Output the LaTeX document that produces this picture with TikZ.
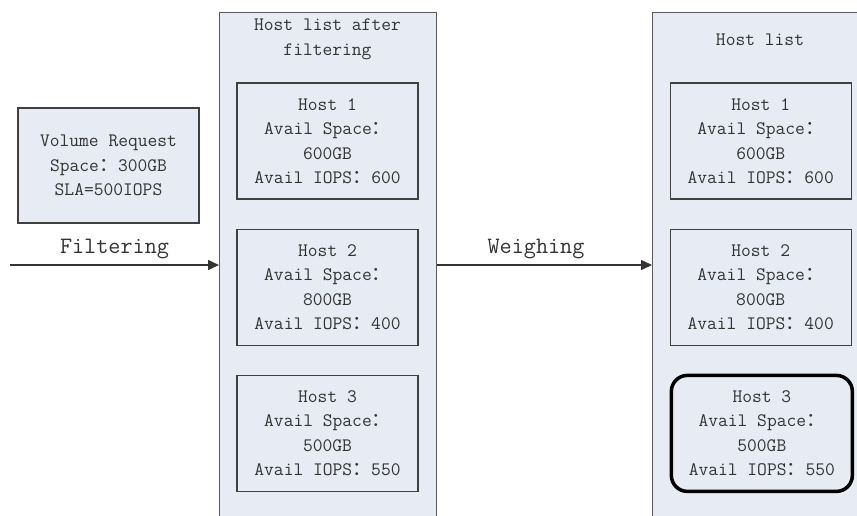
\documentclass[tikz,border=0pt]{standalone}
\usepackage{fontspec}
\newfontfamily\cjk{Noto Sans CJK SC}
\usepackage{tikz}
\usetikzlibrary{positioning,arrows.meta}
\definecolor{boxfill}{RGB}{231,235,244}
\newcommand{\fwcolon}{{\cjk ：}}

\begin{document}
\begin{tikzpicture}[%
	x=1pt, y=-1pt,
	>={Triangle[length=11pt,width=10pt]},
	node distance=29pt, align=center,
	txt/.style={font=\ttfamily\fontsize{19}{24.5}\selectfont, text=black!80},
	lbl/.style={font=\ttfamily\fontsize{23.5}{28}\selectfont, text=black!80},
	hostbox/.style={txt, draw=black!75, line width=1.2pt, fill=boxfill,
		minimum width=181pt, minimum height=116pt, inner sep=0pt},
	column/.style={draw=black!65, line width=1.2pt, fill=boxfill,
		minimum width=217pt, minimum height=530pt, anchor=north west, inner sep=0pt},
	pick/.style={draw=black, line width=3.5pt, rounded corners=16pt},
	flow/.style={->, line width=1.5pt, draw=black!80}
	]
	\useasboundingbox (0,0) rectangle (857,515);
	\clip (0,0) rectangle (857,515);
	
	\node[column] (c1) at (219,12) {};
	\node[column] (c2) at (652,12) {};
	\node[txt] (t1) at (327.5,39.5) {Host list after\\filtering};
	\node[txt] (t2) at (760,39.5) {Host list};
	
	\node[hostbox, minimum height=115pt] (req) at (108.5,165.5) {Volume Request\\Space\fwcolon300GB\\SLA=500IOPS};
	
	\node[hostbox] (a1) at (327.5,141) {Host 1\\Avail Space\fwcolon\\600GB\\Avail IOPS\fwcolon600};
	\node[hostbox] (a2) [below=of a1] {Host 2\\Avail Space\fwcolon\\800GB\\Avail IOPS\fwcolon400};
	\node[hostbox] (a3) [below=of a2] {Host 3\\Avail Space\fwcolon\\500GB\\Avail IOPS\fwcolon550};
	
	\node[hostbox] (b1) [right=251pt of a1] {Host 1\\Avail Space\fwcolon\\600GB\\Avail IOPS\fwcolon600};
	\node[hostbox] (b2) [right=251pt of a2] {Host 2\\Avail Space\fwcolon\\800GB\\Avail IOPS\fwcolon400};
	\node[hostbox, pick] (b3) [right=251pt of a3] {Host 3\\Avail Space\fwcolon\\500GB\\Avail IOPS\fwcolon550};
	
	\coordinate (in) at (10,265);
	\draw[flow] (in) -- (in -| c1.west)
		node[midway, anchor=base, yshift=12pt, lbl] {Filtering};
	\draw[flow] (in -| c1.east) -- (in -| c2.west)
		node[pos=.46, anchor=base, yshift=12pt, lbl] {Weighing};
\end{tikzpicture}
\end{document}
